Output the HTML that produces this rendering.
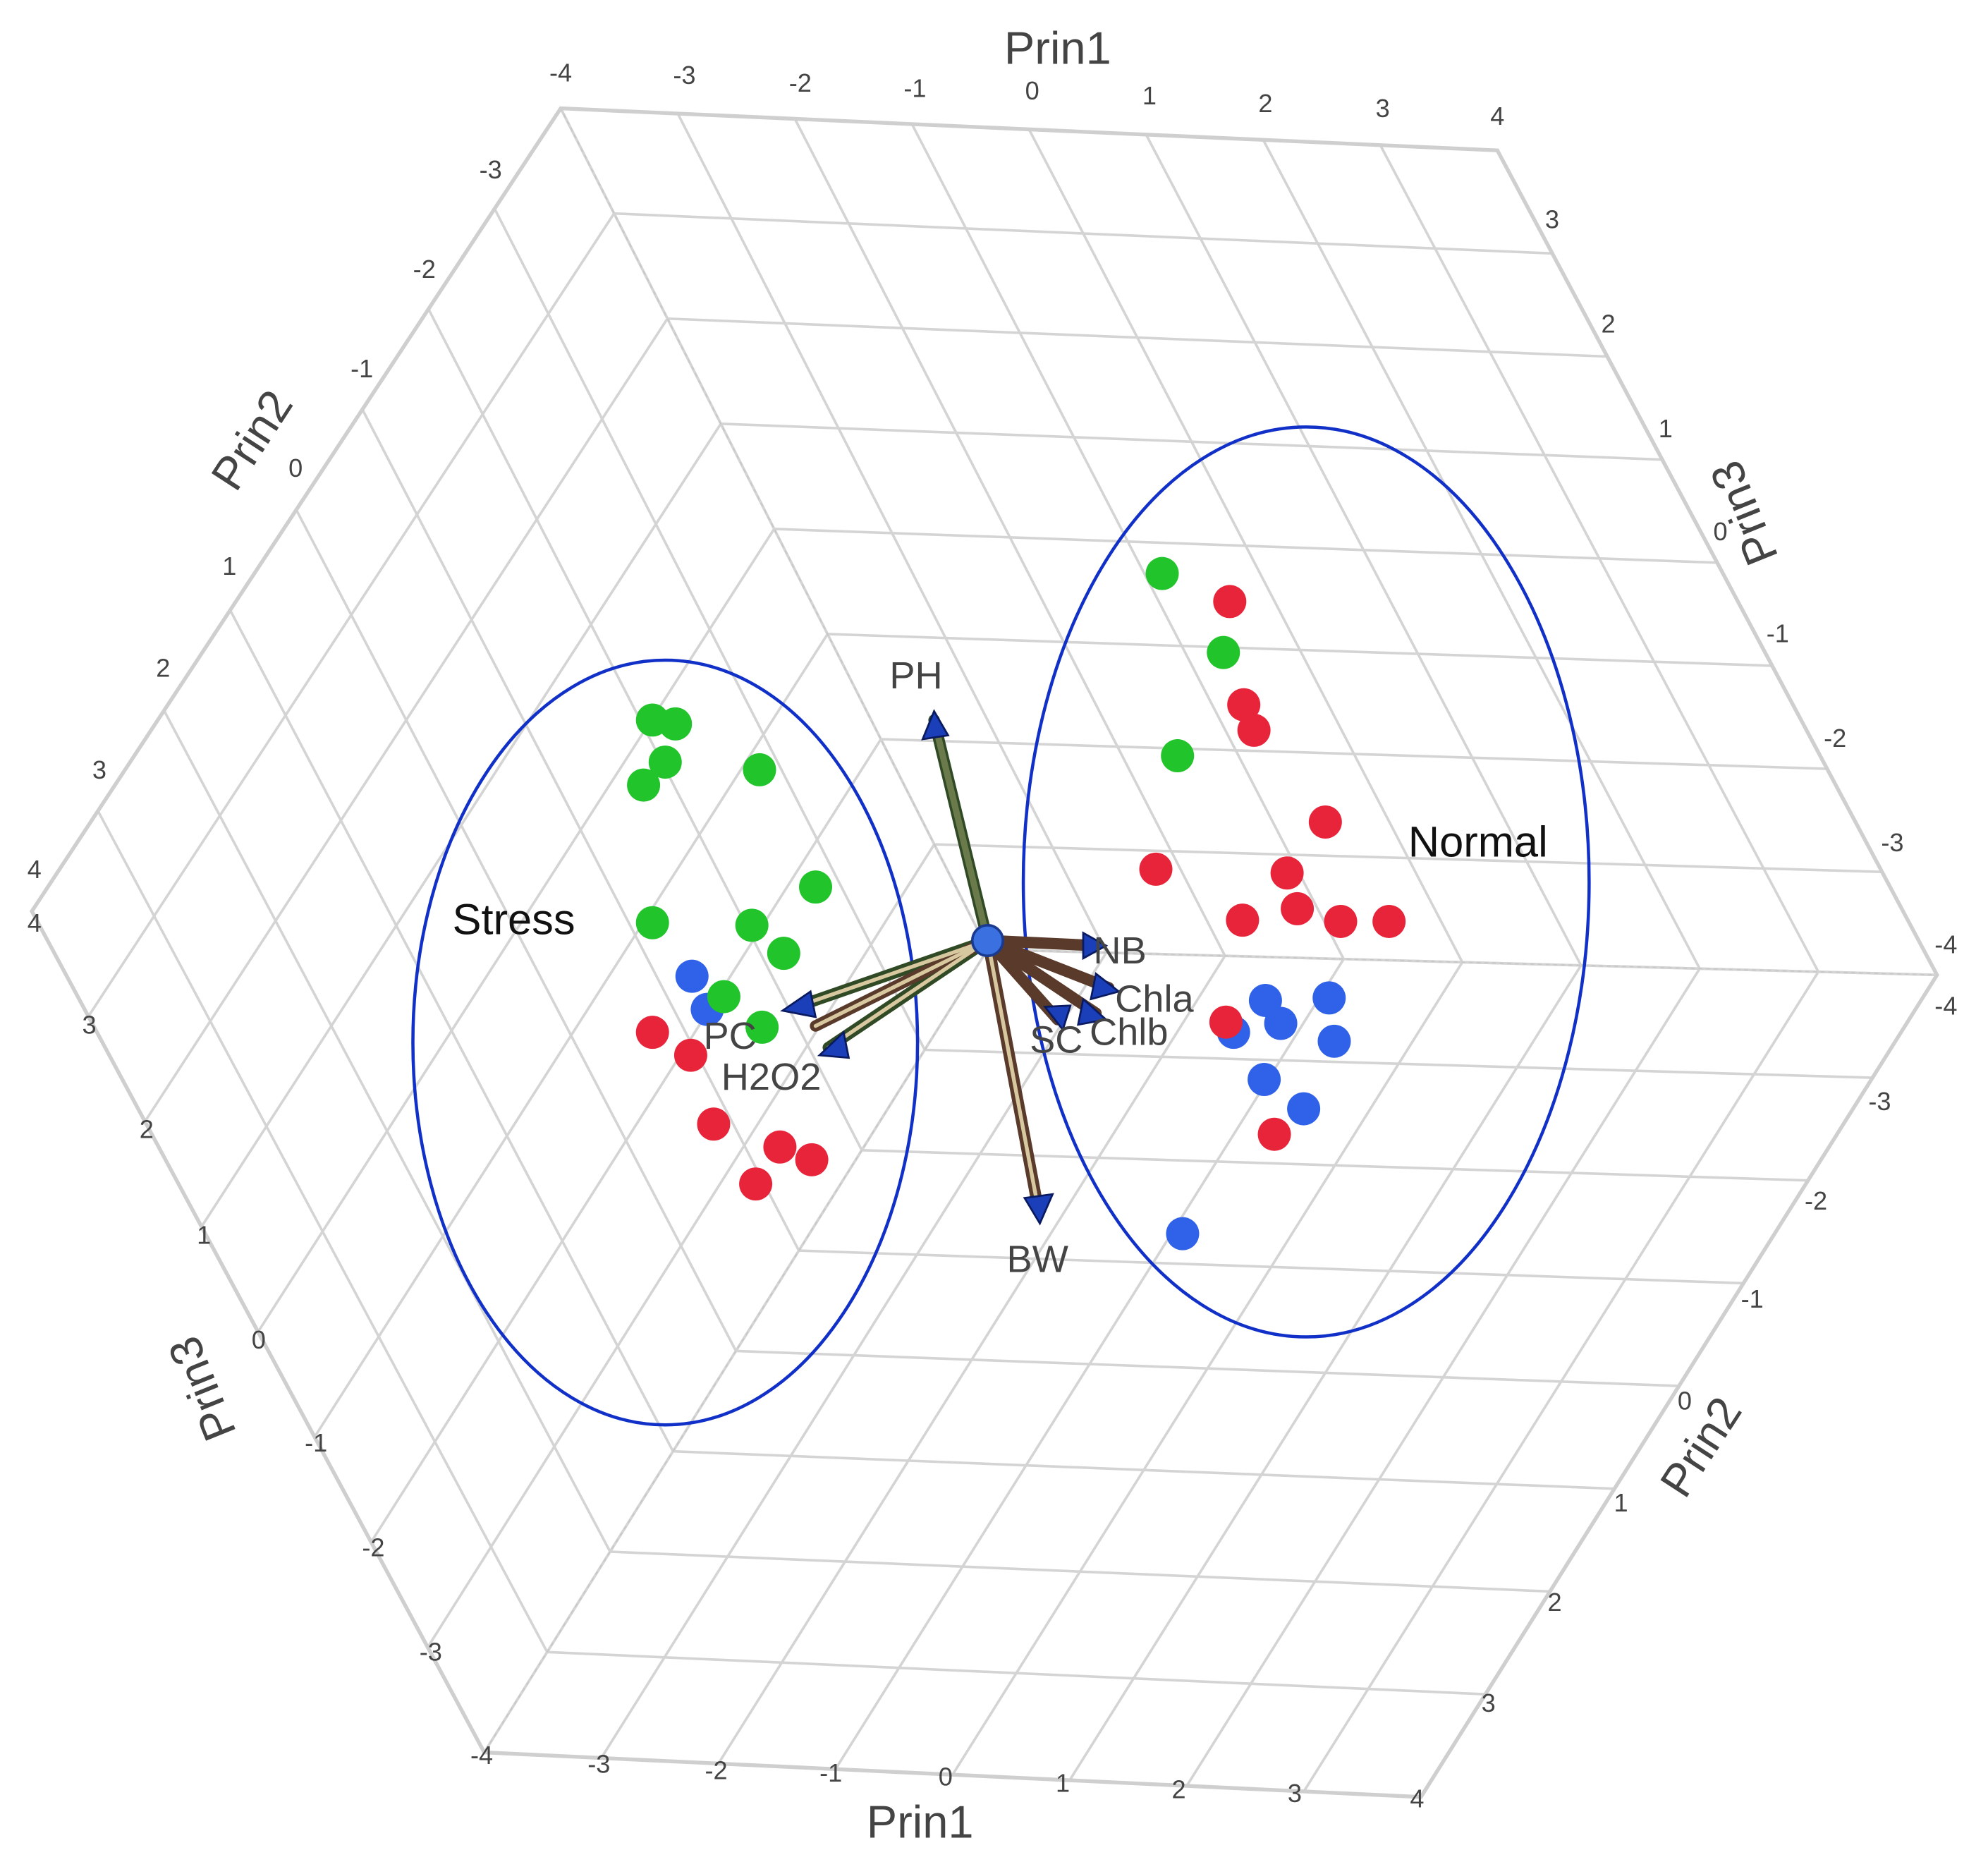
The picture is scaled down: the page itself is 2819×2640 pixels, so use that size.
<!DOCTYPE html>
<html><head><meta charset="utf-8"><style>
html,body{margin:0;padding:0;background:#fff;}
svg{display:block;}
text{font-family:"Liberation Sans",sans-serif;}
</style></head><body>
<svg width="2819" height="2640" viewBox="0 0 1560 1461" preserveAspectRatio="none" xmlns="http://www.w3.org/2000/svg">
<rect width="1560" height="1461" fill="#fff"/>
<g id="grid" stroke="#d4d4d4" stroke-width="2" fill="none"></g>
<g stroke="#c8c8c8" stroke-width="1" stroke-dasharray="3,3" fill="none">
<line x1="775" y1="745" x2="440" y2="85"/><line x1="775" y1="745" x2="380" y2="1375"/><line x1="775" y1="745" x2="1520" y2="765"/>
</g>
<polygon points="440,85 1175,118 1520,765 1115,1410 380,1375 25,715" fill="none" stroke="#cfcfcf" stroke-width="3"/>
<script>
(function(){
var g=document.getElementById('grid');var ns='http://www.w3.org/2000/svg';
var C=[775,745],TL=[440,85],TR=[1175,118],R=[1520,765],BR=[1115,1410],BL=[380,1375],L=[25,715];
function lerp(a,b,t){return [a[0]+(b[0]-a[0])*t,a[1]+(b[1]-a[1])*t];}
function ln(p,q){var e=document.createElementNS(ns,'line');e.setAttribute('x1',p[0]);e.setAttribute('y1',p[1]);e.setAttribute('x2',q[0]);e.setAttribute('y2',q[1]);g.appendChild(e);}
function wall(o,a,b,c){for(var i=0;i<=8;i++){var t=i/8;ln(lerp(o,a,t),lerp(c,b,t));ln(lerp(o,c,t),lerp(a,b,t));}}
wall(C,TL,TR,R);wall(C,R,BR,BL);wall(C,BL,L,TL);
})();
</script>
<g font-size="20" fill="#444">
<text x="440" y="64" text-anchor="middle">-4</text><text x="537" y="66" text-anchor="middle">-3</text><text x="628" y="72" text-anchor="middle">-2</text><text x="718" y="76" text-anchor="middle">-1</text><text x="810" y="78" text-anchor="middle">0</text><text x="902" y="82" text-anchor="middle">1</text><text x="993" y="88" text-anchor="middle">2</text><text x="1085" y="92" text-anchor="middle">3</text><text x="1175" y="98" text-anchor="middle">4</text>
<text x="385" y="140" text-anchor="middle">-3</text><text x="333" y="218" text-anchor="middle">-2</text><text x="284" y="296" text-anchor="middle">-1</text><text x="232" y="374" text-anchor="middle">0</text><text x="180" y="451" text-anchor="middle">1</text><text x="128" y="531" text-anchor="middle">2</text><text x="78" y="611" text-anchor="middle">3</text><text x="27" y="689" text-anchor="middle">4</text>
<text x="27" y="731" text-anchor="middle">4</text><text x="70" y="811" text-anchor="middle">3</text><text x="115" y="893" text-anchor="middle">2</text><text x="160" y="976" text-anchor="middle">1</text><text x="203" y="1058" text-anchor="middle">0</text><text x="248" y="1139" text-anchor="middle">-1</text><text x="293" y="1221" text-anchor="middle">-2</text><text x="338" y="1303" text-anchor="middle">-3</text><text x="378" y="1384" text-anchor="middle">-4</text>
<text x="470" y="1391" text-anchor="middle">-3</text><text x="562" y="1396" text-anchor="middle">-2</text><text x="652" y="1398" text-anchor="middle">-1</text><text x="742" y="1401" text-anchor="middle">0</text><text x="834" y="1406" text-anchor="middle">1</text><text x="925" y="1411" text-anchor="middle">2</text><text x="1016" y="1414" text-anchor="middle">3</text><text x="1112" y="1418" text-anchor="middle">4</text>
<text x="1527" y="796" text-anchor="middle">-4</text><text x="1475" y="871" text-anchor="middle">-3</text><text x="1425" y="949" text-anchor="middle">-2</text><text x="1375" y="1026" text-anchor="middle">-1</text><text x="1322" y="1106" text-anchor="middle">0</text><text x="1272" y="1186" text-anchor="middle">1</text><text x="1220" y="1264" text-anchor="middle">2</text><text x="1168" y="1343" text-anchor="middle">3</text>
<text x="1218" y="179" text-anchor="middle">3</text><text x="1262" y="261" text-anchor="middle">2</text><text x="1307" y="343" text-anchor="middle">1</text><text x="1350" y="424" text-anchor="middle">0</text><text x="1395" y="504" text-anchor="middle">-1</text><text x="1440" y="586" text-anchor="middle">-2</text><text x="1485" y="668" text-anchor="middle">-3</text><text x="1527" y="748" text-anchor="middle">-4</text>
</g>
<g font-size="36" fill="#444" text-anchor="middle">
<text x="830" y="50">Prin1</text>
<text x="722" y="1442">Prin1</text>
<text transform="translate(208,352) rotate(-57)">Prin2</text>
<text transform="translate(1345,1142) rotate(-57)">Prin2</text>
<text transform="translate(170,1085) rotate(-112)">Prin3</text>
<text transform="translate(1380,398) rotate(-112)">Prin3</text>
</g>
<g fill="none" stroke="#1030c8" stroke-width="2.5">
<ellipse cx="522" cy="818" rx="198" ry="300"/>
<ellipse cx="1025" cy="692" rx="222" ry="357"/>
</g>
<g fill="#21c42a">
<circle cx="912" cy="450" r="13"/><circle cx="960" cy="512" r="13"/><circle cx="924" cy="593" r="13"/><circle cx="512" cy="565" r="13"/><circle cx="530" cy="568" r="13"/><circle cx="522" cy="598" r="13"/><circle cx="505" cy="616" r="13"/><circle cx="596" cy="604" r="13"/><circle cx="640" cy="696" r="13"/><circle cx="512" cy="724" r="13"/><circle cx="590" cy="726" r="13"/><circle cx="615" cy="748" r="13"/>
</g>
<g fill="#2f62e8">
<circle cx="543" cy="766" r="13"/><circle cx="555" cy="792" r="13"/><circle cx="993" cy="785" r="13"/><circle cx="1005" cy="803" r="13"/><circle cx="968" cy="810" r="13"/><circle cx="1043" cy="783" r="13"/><circle cx="1047" cy="817" r="13"/><circle cx="992" cy="847" r="13"/><circle cx="1023" cy="870" r="13"/><circle cx="928" cy="968" r="13"/>
</g>
<g fill="#e8243a">
<circle cx="965" cy="472" r="13"/><circle cx="976" cy="553" r="13"/><circle cx="984" cy="573" r="13"/><circle cx="1040" cy="645" r="13"/><circle cx="907" cy="682" r="13"/><circle cx="1010" cy="685" r="13"/><circle cx="1018" cy="713" r="13"/><circle cx="975" cy="722" r="13"/><circle cx="1052" cy="723" r="13"/><circle cx="1090" cy="723" r="13"/><circle cx="962" cy="802" r="13"/><circle cx="1000" cy="890" r="13"/><circle cx="512" cy="810" r="13"/><circle cx="542" cy="828" r="13"/><circle cx="560" cy="882" r="13"/><circle cx="612" cy="900" r="13"/><circle cx="637" cy="910" r="13"/><circle cx="593" cy="929" r="13"/>
</g>
<g stroke-linecap="round">
<g stroke="#2f4a25" stroke-width="9"><line x1="775" y1="738" x2="733" y2="565"/><line x1="775" y1="738" x2="650" y2="822"/><line x1="775" y1="738" x2="625" y2="790"/></g>
<g stroke="#6b7a4a" stroke-width="5"><line x1="775" y1="738" x2="733" y2="565"/></g>
<g stroke="#5a3a2a" stroke-width="9"><line x1="775" y1="738" x2="815" y2="950"/><line x1="775" y1="738" x2="860" y2="742"/><line x1="775" y1="738" x2="870" y2="775"/><line x1="775" y1="738" x2="860" y2="795"/><line x1="775" y1="738" x2="830" y2="800"/><line x1="775" y1="738" x2="640" y2="805"/></g>
<g stroke="#d8c8a0" stroke-width="3"><line x1="775" y1="738" x2="815" y2="950"/><line x1="775" y1="738" x2="650" y2="822"/><line x1="775" y1="738" x2="625" y2="790"/><line x1="775" y1="738" x2="640" y2="805"/></g>
</g>
<g fill="#1a3fb8" stroke="#0a1a60" stroke-width="1.5">
<polygon points="733,558 724,580 744,577"/><polygon points="816,960 804,940 826,937"/><polygon points="643,828 662,810 666,830"/><polygon points="614,793 636,778 640,798"/><polygon points="868,742 850,732 850,752"/><polygon points="878,778 860,764 856,784"/><polygon points="868,800 850,784 846,804"/><polygon points="834,808 820,790 840,789"/>
</g>
<g fill="#21c42a"><circle cx="568" cy="782" r="13"/><circle cx="598" cy="806" r="13"/></g>
<circle cx="775" cy="738" r="12" fill="#3a70e0" stroke="#1a3a90" stroke-width="2"/>
<g font-size="30" fill="#444">
<text x="698" y="540">PH</text><text x="790" y="998">BW</text><text x="566" y="855">H2O2</text><text x="552" y="823">PC</text><text x="858" y="756">NB</text><text x="875" y="794">Chla</text><text x="808" y="826">SC</text><text x="855" y="820">Chlb</text>
</g>
<g font-size="34" fill="#111">
<text x="355" y="733">Stress</text><text x="1105" y="672">Normal</text>
</g>
</svg>
</body></html>
